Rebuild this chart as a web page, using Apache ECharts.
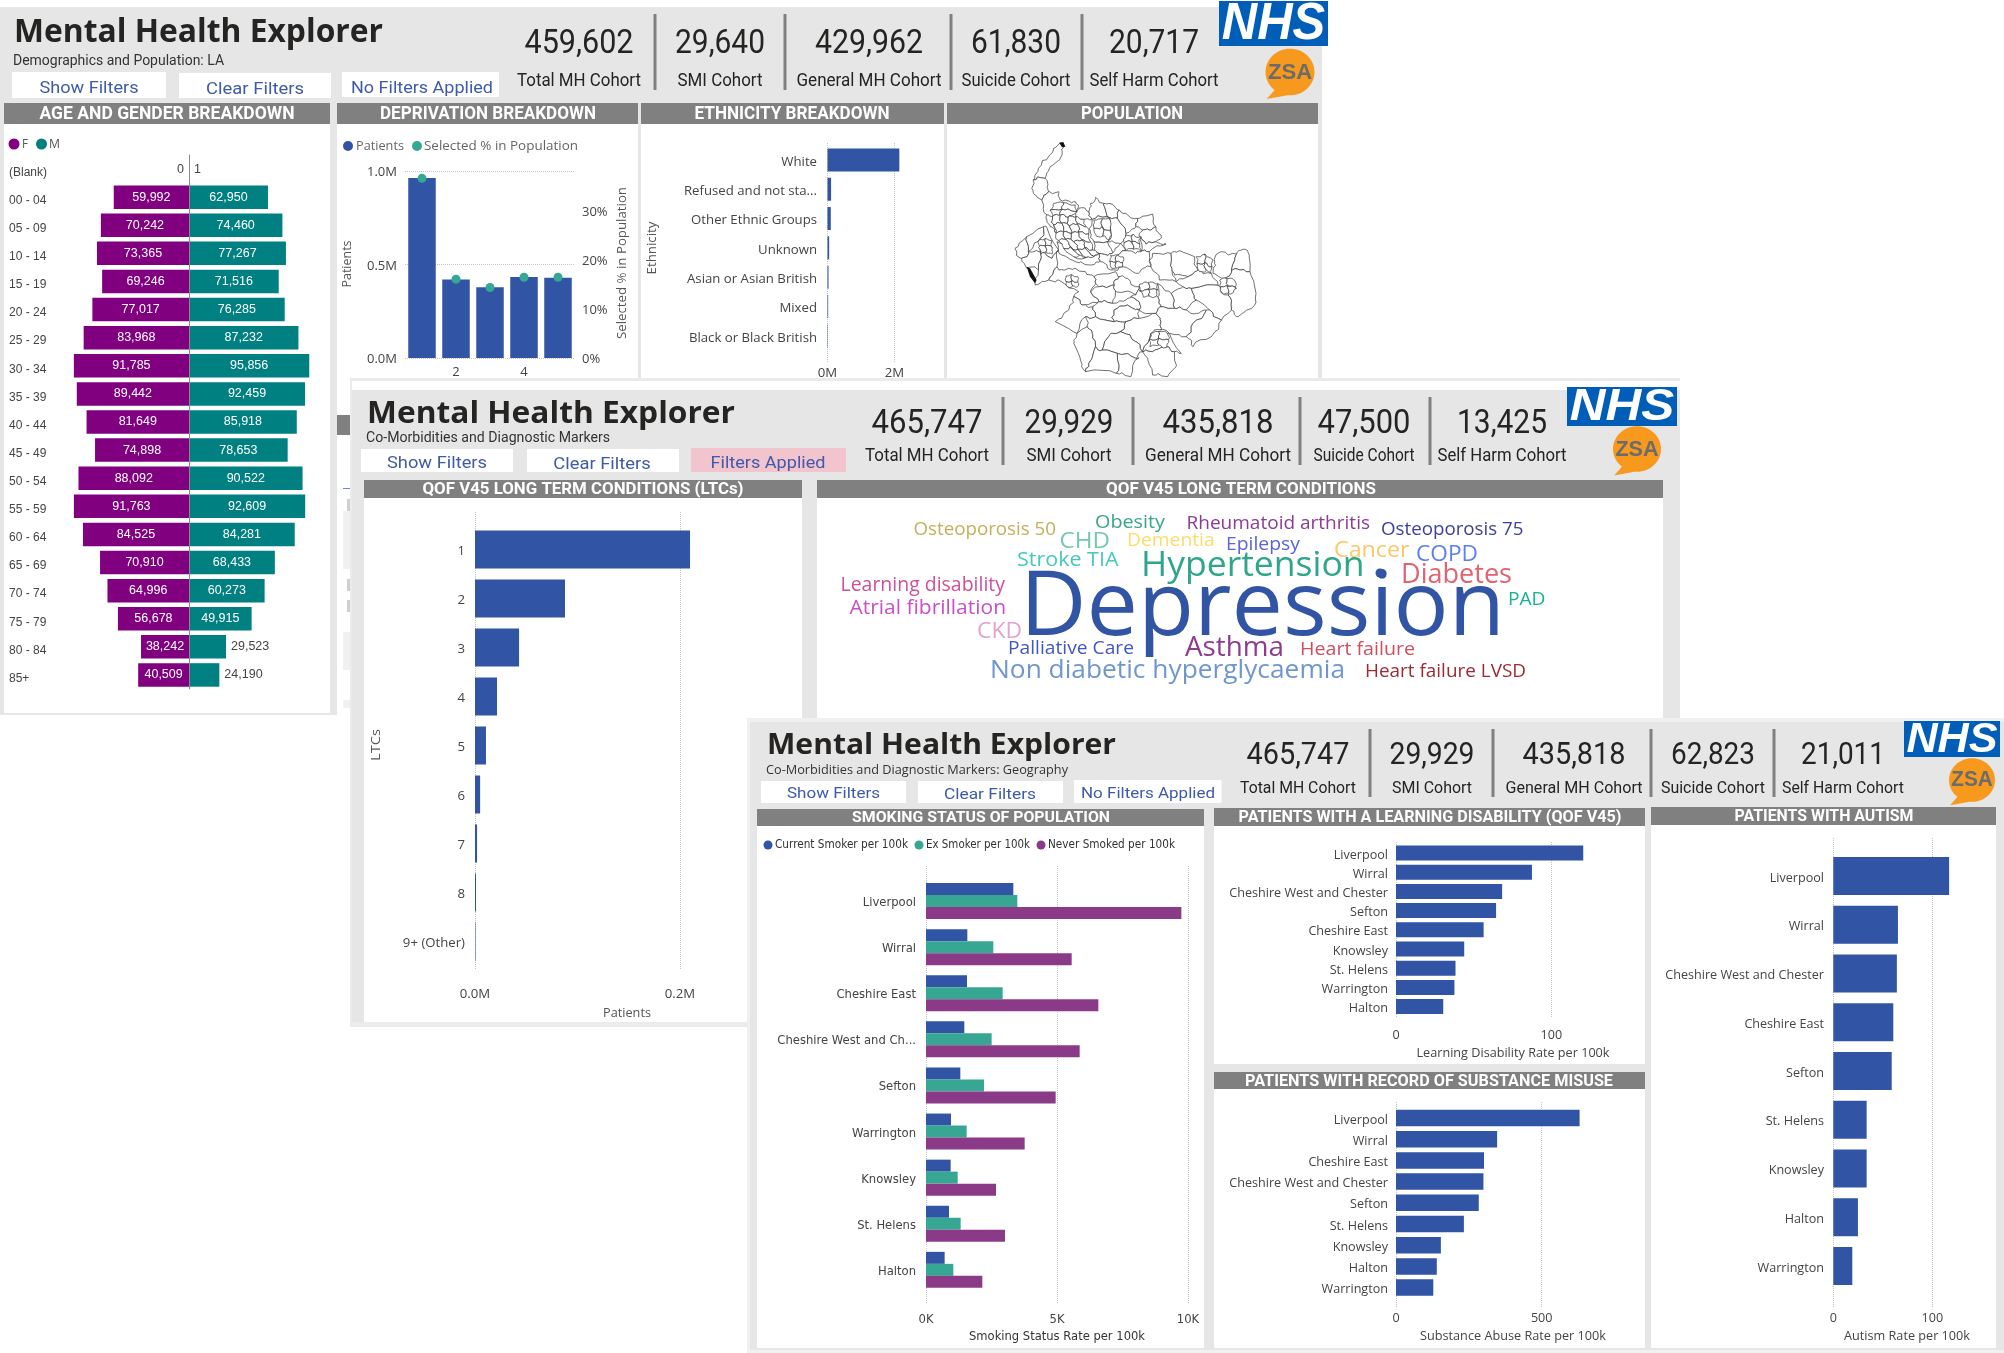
<!DOCTYPE html>
<html><head><meta charset="utf-8">
<script src="https://cdn.jsdelivr.net/npm/echarts@6/dist/echarts.min.js"></script>
<style>html,body{margin:0;padding:0;background:#fff;width:2004px;height:1353px;overflow:hidden}
.w{position:absolute;left:0;top:0;width:2004px;height:1353px}</style></head><body>
<div id="w1" class="w" style="z-index:1"></div><div id="w2" class="w" style="z-index:2"></div><div id="w3" class="w" style="z-index:3"></div>
<script>
// ---------- DATA ----------
const ageCats=['(Blank)','00 - 04','05 - 09','10 - 14','15 - 19','20 - 24','25 - 29','30 - 34','35 - 39','40 - 44','45 - 49','50 - 54','55 - 59','60 - 64','65 - 69','70 - 74','75 - 79','80 - 84','85+'];
const femaleCounts=[0,59992,70242,73365,69246,77017,83968,91785,89442,81649,74898,88092,91763,84525,70910,64996,56678,38242,40509];
const maleCounts=[1,62950,74460,77267,71516,76285,87232,95856,92459,85918,78653,90522,92609,84281,68433,60273,49915,29523,24190];
const depCats=['1','2','3','4','5'];
const depPatients=[962000,420000,378000,433000,429000];
const depSelectedPct=[0.367,0.161,0.144,0.165,0.165];
const ethCats=['White','Refused and not sta...','Other Ethnic Groups','Unknown','Asian or Asian British','Mixed','Black or Black British'];
const ethValues=[2146000,107000,98000,50000,30000,20000,12000];
const ltcCats=['1','2','3','4','5','6','7','8','9+ (Other)'];
const ltcValues=[209800,87800,43000,21500,10700,5000,2000,1000,500];
const smokeCats=['Liverpool','Wirral','Cheshire East','Cheshire West and Ch...','Sefton','Warrington','Knowsley','St. Helens','Halton'];
const smokeCurrent=[3333,1578,1565,1463,1310,954,941,878,712];
const smokeEx=[3486,2570,2926,2506,2214,1552,1209,1323,1043];
const smokeNever=[9746,5560,6578,5865,4949,3766,2672,3015,2150];
const ldCats=['Liverpool','Wirral','Cheshire West and Chester','Sefton','Cheshire East','Knowsley','St. Helens','Warrington','Halton'];
const ldValues=[120.5,87.5,68.3,64.4,56.4,43.9,38.3,37.6,30.4];
const subCats=['Liverpool','Wirral','Cheshire East','Cheshire West and Chester','Sefton','St. Helens','Knowsley','Halton','Warrington'];
const subValues=[630,347,302,300,284,233,154,140,128];
const autCats=['Liverpool','Wirral','Cheshire West and Chester','Cheshire East','Sefton','St. Helens','Knowsley','Halton','Warrington'];
const autValues=[117,65.3,64.2,60.6,59,33.7,33.7,24.9,19.2];
const kpiLabels=['Total MH Cohort','SMI Cohort','General MH Cohort','Suicide Cohort','Self Harm Cohort'];
const kpi1=['459,602','29,640','429,962','61,830','20,717'];
const kpi2=['465,747','29,929','435,818','47,500','13,425'];
const kpi3=['465,747','29,929','435,818','62,823','21,011'];
const cloudWords=['Depression','Hypertension','Diabetes','Asthma','Non diabetic hyperglycaemia','Cancer','COPD','CKD','CHD','Learning disability','Atrial fibrillation','Stroke TIA','Heart failure','Heart failure LVSD','Palliative Care','Osteoporosis 50','Osteoporosis 75','Obesity','Rheumatoid arthritis','Dementia','Epilepsy','PAD'];

// ---------- STYLE ----------
const BLUE='#3155a4',GREEN='#37a794',PURP='#8b3a87',FEM='#800080',MALE='#008080',GRAY='#e6e6e6',HEAD='#808080',INK='#252423',AX='#444444',BTN='#3f5aa8';
const UI='"Open Sans"',DIN='Roboto';
const ctx=document.createElement('canvas').getContext('2d');
function T(text,cx,cy,size,width,o={}){
  const fam=o.family||DIN,wt=o.weight||'normal',st=o.style||'normal';
  ctx.font=`${st} ${wt} ${size}px ${fam}`;
  const s=width?width/ctx.measureText(text).width:1;
  return {type:'text',x:cx,y:o.rot?cy:cy+1.5,scaleX:s,rotation:o.rot||0,z:-5,silent:true,
    style:{text,fontFamily:fam,fontWeight:wt,fontStyle:st,fontSize:size,fill:o.color||INK,align:'center',verticalAlign:'middle'}};
}
function R(x,y,w,h,fill,z){return {type:'rect',shape:{x,y,width:w,height:h},style:{fill},z:z===undefined?-8:z,silent:true};}
function C(cx,cy,r,fill){return {type:'circle',shape:{cx,cy,r},style:{fill},z:-5,silent:true};}
function header(x0,x1,y0,y1,text,tc,tw,size){return [R(x0,y0,x1-x0,y1-y0,HEAD),T(text,tc,(y0+y1)/2-0.5,size||17.5,tw,{color:'#fff',weight:'bold'})];}
function logos(nx0,nx1,ny0,ny1,zx,zy,zr){
  const h=ny1-ny0;
  return [R(nx0,ny0,nx1-nx0,h,'#005eb8'),T('NHS',(nx0+nx1)/2,(ny0+ny1)/2,h*1.16,(nx1-nx0)*0.95,{family:'"Liberation Sans"',weight:'bold',style:'italic',color:'#fff'}),
   {type:'ellipse',shape:{cx:zx,cy:zy,rx:zr,ry:zr*0.95},style:{fill:'#f7991c'},z:-6,silent:true},
   {type:'polygon',shape:{points:[[zx-zr*0.6,zy+zr*0.7],[zx-zr*0.95,zy+zr*1.1],[zx-zr*0.1,zy+zr*0.95]]},style:{fill:'#f7991c'},z:-6,silent:true},
   T('ZSA',zx,zy-1,zr*0.92,zr*1.8,{family:'"Liberation Sans"',weight:'bold',color:'#6b6b6b'})];
}
function kpis(vals,cx,wn,wl,yn,yl,divs,d0,d1,size,lsize){
  const g=[];
  vals.forEach((v,i)=>{g.push(T(v,cx[i],yn+1,size,wn[i]));g.push(T(kpiLabels[i],cx[i],yl,lsize,wl[i]));});
  divs.forEach(x=>g.push(R(x-1.5,d0,3,d1-d0,HEAD)));
  return g;
}
const dot={type:'dotted',color:'#c4c4c4',width:1};
function builder(){return {grid:[],xAxis:[],yAxis:[],series:[]};}
// horizontal bar panel: a grid for the gridlines and ticks, and a grid for the bars
function hbar(b,cfg){
  const {left,right,bandTop,bandH,lineTop,lineBottom,labelRight,tickY,cats,max,interval,fmt,barW,list,font,fontSize}=cfg;
  const gi=b.grid.length,xi=b.xAxis.length,yi=b.yAxis.length;
  b.grid.push({left,top:lineTop,width:right-left,height:lineBottom-lineTop});
  const exact=max%interval===0;
  b.xAxis.push({gridIndex:gi,type:'value',min:0,max,interval,axisLine:{show:false},axisTick:{show:false},
    splitLine:{show:true,lineStyle:dot,showMaxLine:exact},
    axisLabel:{color:AX,fontFamily:font,fontSize,margin:tickY-lineBottom-4,formatter:fmt,showMaxLabel:exact,hideOverlap:false}});
  b.yAxis.push({gridIndex:gi,type:'value',min:0,max:1,show:false,splitLine:{show:false}});
  b.grid.push({left,top:bandTop,width:right-left,height:bandH*cats.length});
  b.xAxis.push({gridIndex:gi+1,type:'value',min:0,max,show:false,splitLine:{show:false}});
  b.yAxis.push({gridIndex:gi+1,type:'category',inverse:true,data:cats,axisLine:{show:false},axisTick:{show:false},splitLine:{show:false},
    axisLabel:{color:AX,fontFamily:font,fontSize,margin:left-labelRight,interval:0,verticalAlign:'top',lineHeight:4}});
  list.forEach(s=>b.series.push({type:'bar',name:s.name,xAxisIndex:xi+1,yAxisIndex:yi+1,data:s.data,barWidth:barW,barGap:'0%',itemStyle:{color:s.color},silent:true}));
}
function finish(id,b,graphic){
  const c=echarts.init(document.getElementById(id),null,{renderer:'canvas',width:2004,height:1353});
  const opt={animation:false,backgroundColor:'transparent',graphic:{elements:graphic},...b};
  c.setOption(opt);
  return c;
}

// ---------- WINDOW 1 ----------
(function(){
 const b=builder(),g=[];
 g.push(R(0,7,1322,708,GRAY,-10));
 g.push(T('Mental Health Explorer',198.5,31,32,369,{family:UI,weight:'bold'}));
 g.push(T('Demographics and Population: LA',118.5,60,14.5,211,{color:'#333'}));
 g.push(R(12,72,154,26,'#fff'),T('Show Filters',89,87,17,99,{color:BTN}));
 g.push(R(179,73,152,25,'#fff'),T('Clear Filters',255,88,17,98,{color:BTN}));
 g.push(R(342,72,157,25,'#fff'),T('No Filters Applied',422,87,17,142,{color:BTN}));
 g.push(...kpis(kpi1,[579,720,869,1016,1154],[109,90,108,90,90],[124,85,145,109,129],42,80,[655,785,951,1082],14,90,33,18));
 g.push(...logos(1219,1328,1,46,1290,72,24.5));
 g.push(R(4,124,326,589,'#fff'),R(337,124,301,591,'#fff'),R(641,124,303,254,'#fff'),R(947,124,371,254,'#fff'));
 g.push(...header(4,330,103,124,'AGE AND GENDER BREAKDOWN',167,255));
 g.push(...header(337,638,103,124,'DEPRIVATION BREAKDOWN',488,216));
 g.push(...header(641,944,103,124,'ETHNICITY BREAKDOWN',792,195));
 g.push(...header(947,1318,103,124,'POPULATION',1132,102));
 // slicer pane showing through behind window 2
 g.push(R(337,415,13,20,HEAD),R(343,488,7,1,'#6f86c8'),R(347,499,3,12,'#cfcfcf'),R(343,511,7,58,'#f1f1f1'),R(347,579,3,12,'#cfcfcf'),R(347,600,3,12,'#cfcfcf'),R(343,632,7,38,'#f1f1f1'),R(343,700,7,8,'#f1f1f1'));
 // age legend
 g.push(C(14,144,5.5,FEM),T('F',25,143,13,6,{family:UI,color:'#555'}),C(41.5,144,5.5,MALE),T('M',54.5,143,13,11,{family:UI,color:'#555'}));
 // pyramid
 const lab=(d,outside,pos)=>outside?{value:d,label:{position:pos,color:AX,distance:5}}:{value:d};
 const fmtN=p=>Number(p.value).toLocaleString('en-GB');
 b.grid.push({left:51,top:155,width:138,height:534},{left:189,top:155,width:138,height:534});
 b.xAxis.push({gridIndex:0,type:'value',inverse:true,min:0,max:110000,show:false,splitLine:{show:false}},{gridIndex:1,type:'value',min:0,max:110000,show:false,splitLine:{show:false}});
 b.yAxis.push({gridIndex:0,type:'category',inverse:true,data:ageCats,axisLine:{show:false},axisTick:{show:false},
   axisLabel:{align:'left',margin:42,interval:0,color:AX,fontFamily:'"Liberation Sans"',fontSize:12,verticalAlign:'top',lineHeight:7}},
  {gridIndex:1,type:'category',inverse:true,data:ageCats,axisLine:{show:true,lineStyle:{color:'#8a8a8a',width:1}},axisTick:{show:false},axisLabel:{show:false},z:5});
 const vlab={show:true,position:'inside',color:'#fff',fontFamily:'"Liberation Sans"',fontSize:12.5,formatter:fmtN};
 b.series.push({type:'bar',name:'F',xAxisIndex:0,yAxisIndex:0,barWidth:23.5,silent:true,itemStyle:{color:FEM},label:vlab,
   data:femaleCounts.map(v=>lab(v,v<1000,'left'))});
 b.series.push({type:'bar',name:'M',xAxisIndex:1,yAxisIndex:1,barWidth:23.5,silent:true,itemStyle:{color:MALE},label:vlab,
   data:maleCounts.map(v=>lab(v,v<30000,'right'))});
 // deprivation
 b.grid.push({left:405,top:171,width:170,height:187});
 b.xAxis.push({gridIndex:2,type:'category',data:depCats,axisLine:{show:false},axisTick:{show:false},
   axisLabel:{interval:(i)=>i%2===1,color:AX,fontFamily:UI,fontSize:13,margin:8}});
 b.yAxis.push({gridIndex:2,type:'value',min:0,max:1000000,interval:500000,axisLine:{show:false},axisTick:{show:false},splitLine:{lineStyle:dot},
   axisLabel:{color:AX,fontFamily:UI,fontSize:13,margin:8,verticalAlign:'top',lineHeight:3,formatter:v=>(v/1e6).toFixed(1)+'M'}},
  {gridIndex:2,type:'value',position:'right',min:0,max:0.382,interval:0.1,axisLine:{show:false},axisTick:{show:false},splitLine:{show:false},
   axisLabel:{color:AX,fontFamily:UI,fontSize:13,margin:7,verticalAlign:'top',lineHeight:3,showMaxLabel:false,formatter:v=>Math.round(v*100)+'%'}});
 b.series.push({type:'bar',name:'Patients',xAxisIndex:2,yAxisIndex:2,data:depPatients,barWidth:27.5,itemStyle:{color:BLUE},silent:true});
 b.series.push({type:'line',name:'Selected % in Population',xAxisIndex:2,yAxisIndex:3,data:depSelectedPct,symbol:'circle',symbolSize:9,itemStyle:{color:GREEN},lineStyle:{opacity:0},z:5,silent:true});
 g.push(C(348,146,5,BLUE),T('Patients',380,145,12.5,48,{family:UI,color:'#666'}),C(417,146,5,GREEN),T('Selected % in Population',501,145,12.5,154,{family:UI,color:'#666'}));
 g.push(T('Patients',347,264,12.5,47,{family:UI,color:'#555',rot:Math.PI/2}),T('Selected % in Population',622,263,12.5,152,{family:UI,color:'#555',rot:Math.PI/2}));
 // ethnicity
 hbar(b,{left:827.5,right:904.5,bandTop:145.3,bandH:29.3,lineTop:143,lineBottom:362,labelRight:817,tickY:371,cats:ethCats,max:2300000,interval:2000000,fmt:v=>v/1e6+'M',barW:23,font:UI,fontSize:13.2,
   list:[{name:'Patients',data:ethValues,color:BLUE}]});
 g.push(T('Ethnicity',652.5,248,13,53,{family:UI,color:'#555',rot:Math.PI/2}));
 // population map
 const bld=[
 [[245,68],[255,80],[250,105],[235,125],[215,140],[200,175],[165,180],[180,145],[210,110],[225,85]],
 [[165,180],[200,175],[210,215],[190,240],[170,225],[160,205]],
 [[190,240],[210,215],[240,215],[245,240],[260,240],[290,245],[300,265],[270,280],[240,290],[205,285]],
 [[205,285],[222,290],[225,315],[232,340],[215,320],[205,300]],
 [[268,292],[292,290],[300,265],[330,275],[340,298],[315,298]],
 [[330,275],[335,250],[350,232],[375,250],[385,290],[340,298]],
 [[375,250],[390,250],[420,270],[415,295],[385,290]],
 [[420,270],[440,280],[475,295],[470,320],[440,340],[415,295]],
 [[475,295],[520,282],[530,320],[490,330],[470,320]],
 [[490,330],[530,320],[545,345],[530,365],[500,372],[480,350]],
 [[340,298],[385,290],[395,330],[385,365],[345,365],[335,340]],
 [[385,290],[415,295],[440,340],[425,370],[385,365],[395,330]],
 [[345,365],[385,365],[400,400],[360,400]],
 [[360,400],[400,400],[425,370],[440,392],[415,405],[430,440],[395,450],[365,425]],
 [[485,350],[500,372],[530,365],[560,372],[510,395],[485,395]],
 [[415,405],[440,392],[485,395],[510,395],[515,440],[490,445],[470,460],[430,440]],
 [[235,365],[285,410],[345,410],[360,400],[365,425],[335,435],[290,425],[250,405]],
 [[520,400],[575,400],[578,445],[590,485],[540,480],[515,440]],
 [[575,400],[600,392],[645,410],[655,450],[625,470],[585,465],[578,445]],
 [[705,425],[725,395],[770,402],[755,450],[730,475],[700,460]],
 [[770,402],[790,388],[808,405],[810,455],[780,450],[755,450]],
 [[755,450],[780,450],[810,455],[828,520],[815,565],[775,590],[755,570],[745,525],[770,505],[730,490],[730,475]],
 [[635,505],[715,495],[745,525],[755,570],[725,600],[690,570],[650,540]],
 [[590,485],[625,470],[655,450],[695,460],[715,495],[635,505],[610,500]],
 [[575,520],[610,500],[635,505],[650,540],[620,570],[585,565]],
 [[535,490],[575,520],[585,565],[545,560],[535,530]],
 [[420,470],[445,475],[480,500],[470,525],[410,515],[405,495]],
 [[345,470],[410,455],[420,470],[405,495],[360,500],[350,490]],
 [[240,450],[270,445],[320,455],[345,470],[350,490],[335,515],[360,545],[310,555],[285,530],[300,515],[240,480],[210,480],[235,440]],
 [[335,515],[360,500],[405,495],[410,515],[400,550],[360,545]],
 [[360,545],[400,550],[440,540],[455,530],[480,545],[480,570],[445,555],[405,570],[405,605],[350,590],[340,560]],
 [[470,525],[480,500],[535,530],[545,560],[530,580],[480,570],[480,545],[455,530]],
 [[405,570],[445,555],[480,570],[480,595],[440,605],[405,605]],
 [[285,530],[310,555],[340,560],[350,590],[320,590],[295,640],[230,605],[270,570]],
 [[320,590],[350,590],[405,605],[440,605],[425,635],[395,640],[370,690],[350,680],[340,640],[325,620]],
 [[440,605],[480,595],[530,580],[545,605],[545,630],[515,640],[490,695],[470,665],[425,635]],
 [[545,560],[585,565],[620,570],[650,580],[680,570],[640,610],[620,650],[570,640],[545,630],[545,605],[530,580]],
 [[680,570],[690,570],[725,600],[695,650],[640,680],[620,650],[640,610]],
 [[295,640],[325,620],[340,640],[350,680],[330,730],[320,755],[305,720],[285,670]],
 [[370,690],[395,640],[425,635],[470,665],[490,695],[470,715],[415,700]],
 [[350,680],[370,690],[415,700],[412,760],[320,755],[330,730]],
 [[490,695],[515,640],[570,640],[605,700],[585,695],[560,680],[520,695]],
 [[490,695],[520,695],[560,680],[585,695],[590,740],[565,770],[520,765],[505,715]],
 [[412,760],[415,700],[470,715],[480,710],[455,770]],
 [[110,385],[145,350],[150,395],[130,415]],
 [[145,350],[195,320],[185,355],[150,395]],
 [[195,320],[205,320],[240,390],[220,415],[185,395],[185,355]],
 [[130,415],[150,395],[185,395],[180,450],[145,445]],
 [[185,395],[220,415],[240,390],[235,440],[210,480],[170,495],[180,450]]];
 const meshes=[
 [[[225,250],[255,248],[290,255]],[[215,270],[250,268],[295,275]],[[222,290],[245,285],[268,292]]],
 [[[222,290],[245,285],[268,292],[292,290],[315,298]],[[225,315],[250,310],[272,318],[296,312],[322,320]],[[232,340],[255,335],[278,342],[300,336],[330,342]],[[240,362],[262,358],[285,365],[310,360],[335,365]],[[255,385],[275,380],[298,388],[318,382],[340,390]],[[285,410],[302,405],[322,412],[345,408],[360,400]]],
 [[[345,300],[370,296],[395,300]],[[345,325],[370,320],[395,330]],[[350,350],[372,348],[390,360]]],
 [[[440,345],[462,342],[485,350]],[[435,368],[458,365],[482,372]],[[440,392],[462,388],[485,395]]],
 [[[650,410],[675,402],[700,420]],[[652,432],[675,428],[697,440]],[[660,455],[680,452],[695,462]]],
 [[[720,480],[742,476],[765,482]],[[722,500],[745,498],[768,503]],[[728,520],[745,520],[760,518]]],
 [[[482,492],[508,488],[535,492]],[[480,512],[508,508],[535,512]],[[490,530],[510,528],[530,530]]],
 [[[262,468],[280,464],[297,470]],[[262,484],[280,482],[297,486]],[[266,500],[282,498],[295,502]]],
 [[[515,640],[538,634],[565,640]],[[510,660],[538,655],[568,660]],[[512,680],[538,675],[562,682]]],
 [[[395,405],[415,405],[432,410]],[[392,425],[412,425],[430,428]],[[398,445],[412,445],[428,442]]],
 [[[180,362],[200,355],[220,362]],[[180,382],[200,378],[222,385]],[[188,402],[202,398],[220,402]]]];
 // boundary lines wander: each edge gets midpoints offset by a value tied to the midpoint, so neighbours share them
 const rough=(pts,amp)=>{const out=[];pts.forEach((p,i)=>{const q=pts[(i+1)%pts.length],mx=(p[0]+q[0])/2,my=(p[1]+q[1])/2,len=Math.hypot(p[0]-q[0],p[1]-q[1]);
   const a=Math.min(amp,len*0.2);out.push(p,[mx+a*Math.sin(my*0.37+mx*0.11),my+a*Math.cos(mx*0.29-my*0.07)]);});return out;};
 const features=[];
 const add=(pts,amp)=>{const w=rough(rough(pts,amp),amp*0.5);features.push({type:'Feature',properties:{name:'a'+features.length},geometry:{type:'Polygon',coordinates:[[...w,w[0]].map(p=>[p[0],-p[1]])]}});};
 bld.forEach(p=>add(p,7));
 meshes.forEach(m=>{for(let r=0;r<m.length-1;r++)for(let c=0;c<m[r].length-1;c++)add([m[r][c],m[r][c+1],m[r+1][c+1],m[r+1][c]],5);});
 echarts.registerMap('cheshireMersey',{type:'FeatureCollection',features});
 b.geo={map:'cheshireMersey',left:1015,top:142.7,width:241,height:234,aspectScale:1,silent:true,label:{show:false},
   itemStyle:{areaColor:'#fff',borderColor:'#333',borderWidth:0.7},emphasis:{disabled:true}};
 const ink=[[[140,440],[150,445],[170,480],[165,490],[150,470]],[[238,68],[250,66],[256,80],[246,82]]];
 ink.forEach(p=>g.push({type:'polygon',shape:{points:p.map(q=>[980+q[0]/3,120+q[1]/3])},style:{fill:'#111'},z:9,silent:true}));
 finish('w1',b,g);
})();

// ---------- WINDOW 2 ----------
(function(){
 const b=builder(),g=[];
 g.push(R(350,378,1330,649,'#ebebeb',-10),R(352,381,1328,9,'#fff',-9.5),R(352,390,1328,632,GRAY,-9));
 g.push(T('Mental Health Explorer',551,412.5,30,368,{family:UI,weight:'bold'}));
 g.push(T('Co-Morbidities and Diagnostic Markers',488,437,14.5,244,{color:'#333'}));
 g.push(R(361,449,152,23,'#fff'),T('Show Filters',437,462,16.5,100,{color:BTN}));
 g.push(R(527,449,152,23,'#fff'),T('Clear Filters',602,463,16.5,97.5,{color:BTN}));
 g.push(R(691,448,155,24,'#f2c4ce'),T('Filters Applied',768,462,16.5,115,{color:BTN}));
 g.push(...kpis(kpi2,[927,1069,1218,1364,1502],[111,89,111,93,90],[124,85,146,101,129],422,455,[1003,1133,1300,1430],397,465,33,17.5));
 g.push(...logos(1567,1677,387,426,1637,449,24));
 g.push(R(364,498,438,524,'#fff'),R(817,498,846,224,'#fff'));
 g.push(...header(364,802,480,498,'QOF V45 LONG TERM CONDITIONS (LTCs)',583,321,16.5));
 g.push(...header(817,1663,480,498,'QOF V45 LONG TERM CONDITIONS',1241,270,16));
 hbar(b,{left:475,right:721,bandTop:525,bandH:49,lineTop:512,lineBottom:969,labelRight:465,tickY:992,cats:ltcCats,max:240000,interval:200000,fmt:v=>(v/1e6).toFixed(1)+'M',barW:38,font:UI,fontSize:13.2,
   list:[{name:'Patients',data:ltcValues,color:BLUE}]});
 g.push(T('Patients',627,1012,12.5,48,{family:UI,color:'#555'}),T('LTCs',376,745,12.5,32,{family:UI,color:'#555',rot:Math.PI/2}));
 // word cloud: colour, left, right, centre y, size for each of cloudWords
 const cloudLayout=[['#3155a4',1020,1505,608,90],['#2fa58a',1141,1364.6,565,34],['#e2626f',1401,1512,574,28],['#8f3b8d',1185,1284,647,28],['#6f97cf',990,1345,669,26],
  ['#fbc768',1334,1409.5,549,22],['#5a7ff0',1416,1478,553,22],['#e3a3cc',977,1022,630,22],['#75c8a9',1059.5,1110,541,21],['#cf5097',840.5,1005,584,20],['#c94fc6',849.5,1006,607,20],
  ['#45c9bd',1017,1118.5,559,20],['#cf4f5f',1300,1415,648,19],['#9c2a33',1365,1526,670,19],['#3e57c4',1008,1134,647,18],['#c9ad5b',913.5,1056,529,17.5],['#3c3f9d',1381,1523.5,529,17.5],
  ['#3aa587',1095,1165,521,18],['#8e3a96',1186.5,1370,522,18],['#fcdc6a',1127,1214.6,539,18],['#5a62dc',1226,1300,543,18],['#17b294',1508,1545.5,598,18]];
 cloudWords.forEach((w,i)=>{const l=cloudLayout[i];g.push(T(w,(l[1]+l[2])/2,l[3],l[4],l[2]-l[1],{family:UI,color:l[0]}));});
 g.push(C(1380,573,4.5,'#3155a4'),C(1316,552,1,'#2fa58a'));
 finish('w2',b,g);
})();

// ---------- WINDOW 3 ----------
(function(){
 const b=builder(),g=[];
 g.push(R(747,718,1257,635,'#f0f0f0',-10),R(750,722,1254,628,GRAY,-9));
 g.push(T('Mental Health Explorer',941.5,744.5,29,349,{family:UI,weight:'bold'}));
 g.push(T('Co-Morbidities and Diagnostic Markers: Geography',917,769,12.5,302,{family:UI,color:'#333'}));
 g.push(R(761,781,145,22,'#fff'),T('Show Filters',833.5,793,15.5,93,{color:BTN}));
 g.push(R(918,781,145,22,'#fff'),T('Clear Filters',990,794,15.5,92,{color:BTN}));
 g.push(R(1074,780,147.5,23,'#fff'),T('No Filters Applied',1148,793,15.5,134,{color:BTN}));
 g.push(...kpis(kpi3,[1298,1432,1574,1713,1843],[103,85,103,84,84],[116,80,137,104,122],754,787,[1370,1493,1651,1774],729,797,31,16.5));
 g.push(...logos(1904,2000,721,757,1972,780,23));
 g.push(R(757,826,447,522,'#fff'),R(1214,826,431,238,'#fff'),R(1214,1089,431,259,'#fff'),R(1651,825,345,523,'#fff'));
 g.push(...header(757,1204,809,826,'SMOKING STATUS OF POPULATION',981,258,15.5));
 g.push(...header(1214,1645,808,826,'PATIENTS WITH A LEARNING DISABILITY (QOF V45)',1430,383,17));
 g.push(...header(1214,1645,1072,1089,'PATIENTS WITH RECORD OF SUBSTANCE MISUSE',1429,368,17));
 g.push(...header(1651,1996,807,825,'PATIENTS WITH AUTISM',1824,179,17));
 // smoking
 g.push(C(768,845,4.5,BLUE),T('Current Smoker per 100k',841.5,844,11.5,133,{family:'"DejaVu Sans"',color:'#333'}));
 g.push(C(919,845,4.5,GREEN),T('Ex Smoker per 100k',978,844,11.5,104,{family:'"DejaVu Sans"',color:'#333'}));
 g.push(C(1041,845,4.5,PURP),T('Never Smoked per 100k',1111.5,844,11.5,127,{family:'"DejaVu Sans"',color:'#333'}));
 hbar(b,{left:926,right:1188,bandTop:878,bandH:46.1,lineTop:866,lineBottom:1303,labelRight:916,tickY:1318,cats:smokeCats,max:10000,interval:5000,fmt:v=>v/1000+'K',barW:12,font:'"DejaVu Sans"',fontSize:11.6,
   list:[{name:'Current Smoker per 100k',data:smokeCurrent,color:BLUE},{name:'Ex Smoker per 100k',data:smokeEx,color:GREEN},{name:'Never Smoked per 100k',data:smokeNever,color:PURP}]});
 g.push(T('Smoking Status Rate per 100k',1057,1336,11.5,176,{family:'"DejaVu Sans"',color:'#333'}));
 // learning disability
 hbar(b,{left:1396,right:1598,bandTop:843.4,bandH:19.2,lineTop:842,lineBottom:1017,labelRight:1388,tickY:1033,cats:ldCats,max:130,interval:100,fmt:v=>String(v),barW:15,font:UI,fontSize:12.6,
   list:[{name:'Learning Disability Rate per 100k',data:ldValues,color:BLUE}]});
 g.push(T('Learning Disability Rate per 100k',1513,1052,12.5,193,{family:UI,color:'#444'}));
 // substance
 hbar(b,{left:1396,right:1600,bandTop:1107.4,bandH:21.2,lineTop:1102,lineBottom:1307,labelRight:1388,tickY:1316,cats:subCats,max:700,interval:500,fmt:v=>String(v),barW:16.5,font:UI,fontSize:12.6,
   list:[{name:'Substance Abuse Rate per 100k',data:subValues,color:BLUE}]});
 g.push(T('Substance Abuse Rate per 100k',1513,1335,12.5,186,{family:UI,color:'#444'}));
 // autism
 hbar(b,{left:1833.3,right:1962,bandTop:851.6,bandH:48.75,lineTop:838,lineBottom:1307,labelRight:1824,tickY:1316,cats:autCats,max:130,interval:100,fmt:v=>String(v),barW:38,font:UI,fontSize:12.6,
   list:[{name:'Autism Rate per 100k',data:autValues,color:BLUE}]});
 g.push(T('Autism Rate per 100k',1907,1335,12.5,126,{family:UI,color:'#444'}));
 finish('w3',b,g);
})();
</script></body></html>
